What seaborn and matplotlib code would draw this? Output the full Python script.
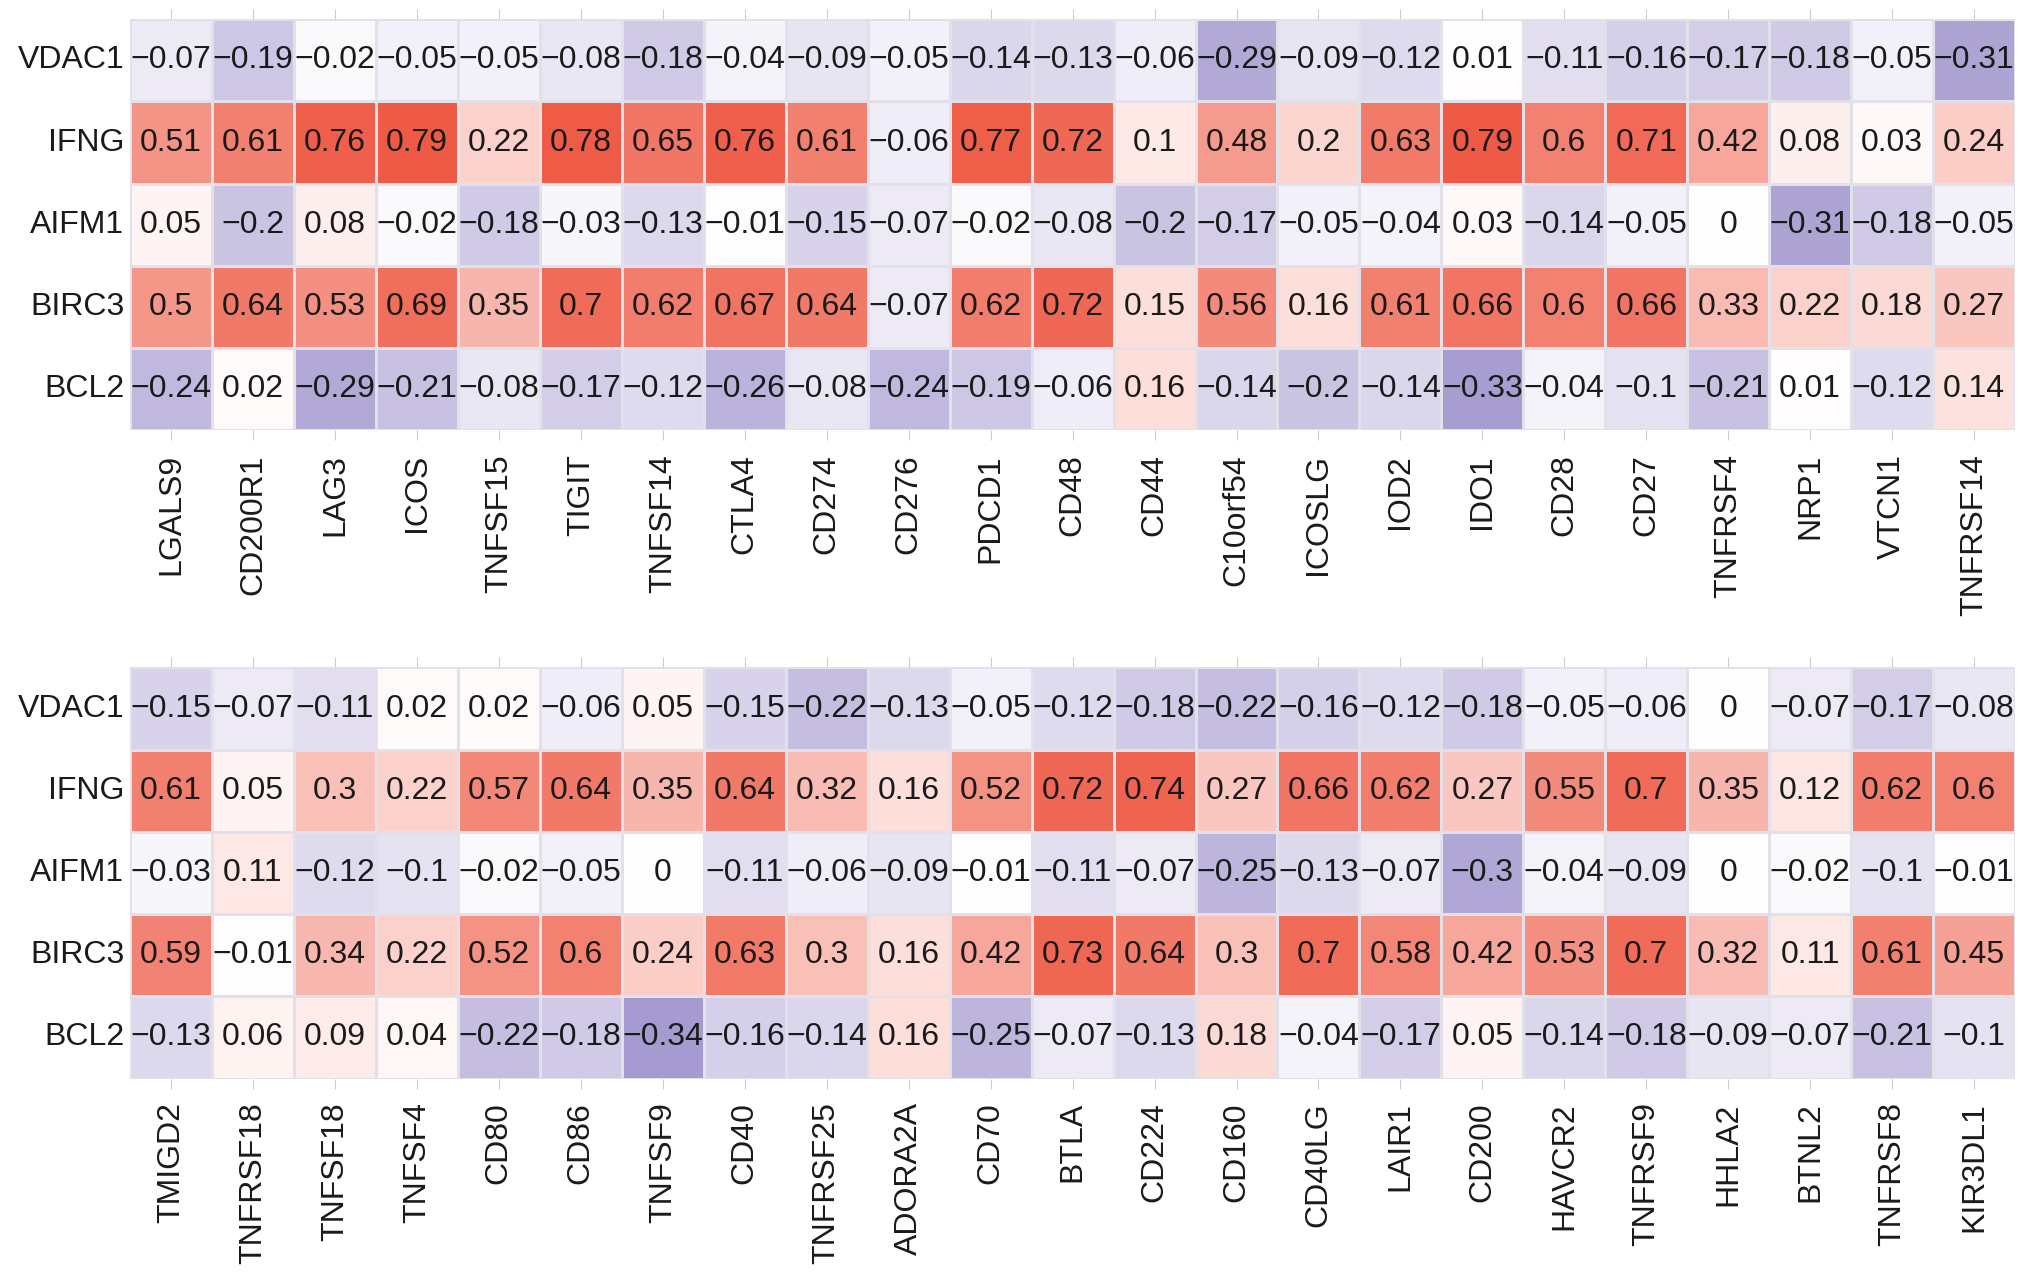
import numpy as np
import pandas as pd
import matplotlib
matplotlib.use("Agg")
import matplotlib.pyplot as plt
import seaborn as sns
from matplotlib.colors import LinearSegmentedColormap, TwoSlopeNorm

rows = ["VDAC1", "IFNG", "AIFM1", "BIRC3", "BCL2"]

genes_top = ["LGALS9", "CD200R1", "LAG3", "ICOS", "TNFSF15", "TIGIT", "TNFSF14", "CTLA4",
             "CD274", "CD276", "PDCD1", "CD48", "CD44", "C10orf54", "ICOSLG", "IOD2", "IDO1",
             "CD28", "CD27", "TNFRSF4", "NRP1", "VTCN1", "TNFRSF14"]
vdac1_top = [-0.07, -0.19, -0.02, -0.05, -0.05, -0.08, -0.18, -0.04, -0.09, -0.05, -0.14, -0.13,
             -0.06, -0.29, -0.09, -0.12, 0.01, -0.11, -0.16, -0.17, -0.18, -0.05, -0.31]
ifng_top = [0.51, 0.61, 0.76, 0.79, 0.22, 0.78, 0.65, 0.76, 0.61, -0.06, 0.77, 0.72,
            0.1, 0.48, 0.2, 0.63, 0.79, 0.6, 0.71, 0.42, 0.08, 0.03, 0.24]
aifm1_top = [0.05, -0.2, 0.08, -0.02, -0.18, -0.03, -0.13, -0.01, -0.15, -0.07, -0.02, -0.08,
             -0.2, -0.17, -0.05, -0.04, 0.03, -0.14, -0.05, 0, -0.31, -0.18, -0.05]
birc3_top = [0.5, 0.64, 0.53, 0.69, 0.35, 0.7, 0.62, 0.67, 0.64, -0.07, 0.62, 0.72,
             0.15, 0.56, 0.16, 0.61, 0.66, 0.6, 0.66, 0.33, 0.22, 0.18, 0.27]
bcl2_top = [-0.24, 0.02, -0.29, -0.21, -0.08, -0.17, -0.12, -0.26, -0.08, -0.24, -0.19, -0.06,
            0.16, -0.14, -0.2, -0.14, -0.33, -0.04, -0.1, -0.21, 0.01, -0.12, 0.14]

genes_bot = ["TMIGD2", "TNFRSF18", "TNFSF18", "TNFSF4", "CD80", "CD86", "TNFSF9", "CD40",
             "TNFRSF25", "ADORA2A", "CD70", "BTLA", "CD224", "CD160", "CD40LG", "LAIR1",
             "CD200", "HAVCR2", "TNFRSF9", "HHLA2", "BTNL2", "TNFRSF8", "KIR3DL1"]
vdac1_bot = [-0.15, -0.07, -0.11, 0.02, 0.02, -0.06, 0.05, -0.15, -0.22, -0.13, -0.05, -0.12,
             -0.18, -0.22, -0.16, -0.12, -0.18, -0.05, -0.06, 0, -0.07, -0.17, -0.08]
ifng_bot = [0.61, 0.05, 0.3, 0.22, 0.57, 0.64, 0.35, 0.64, 0.32, 0.16, 0.52, 0.72,
            0.74, 0.27, 0.66, 0.62, 0.27, 0.55, 0.7, 0.35, 0.12, 0.62, 0.6]
aifm1_bot = [-0.03, 0.11, -0.12, -0.1, -0.02, -0.05, 0, -0.11, -0.06, -0.09, -0.01, -0.11,
             -0.07, -0.25, -0.13, -0.07, -0.3, -0.04, -0.09, 0, -0.02, -0.1, -0.01]
birc3_bot = [0.59, -0.01, 0.34, 0.22, 0.52, 0.6, 0.24, 0.63, 0.3, 0.16, 0.42, 0.73,
             0.64, 0.3, 0.7, 0.58, 0.42, 0.53, 0.7, 0.32, 0.11, 0.61, 0.45]
bcl2_bot = [-0.13, 0.06, 0.09, 0.04, -0.22, -0.18, -0.34, -0.16, -0.14, 0.16, -0.25, -0.07,
            -0.13, 0.18, -0.04, -0.17, 0.05, -0.14, -0.18, -0.09, -0.07, -0.21, -0.1]

df_top = pd.DataFrame([vdac1_top, ifng_top, aifm1_top, birc3_top, bcl2_top], index=rows, columns=genes_top)
df_bot = pd.DataFrame([vdac1_bot, ifng_bot, aifm1_bot, birc3_bot, bcl2_bot], index=rows, columns=genes_bot)

# purple -> white -> red, centred on zero
cmap = LinearSegmentedColormap.from_list("pw", ["#a69bd0", "#ffffff", "#ee5a45"])
norm = TwoSlopeNorm(vmin=-0.34, vcenter=0, vmax=0.79)

plt.rcParams['font.family'] = ['Liberation Sans', 'DejaVu Sans']


def label(v):
    s = f"{v:g}"
    if s == "-0":
        s = "0"
    return s.replace("-", "\u2212")


fig = plt.figure(figsize=(20.32, 12.81), dpi=100)
ax1 = fig.add_axes([0.064, 0.664, 0.9277, 0.321])
ax2 = fig.add_axes([0.064, 0.158, 0.9277, 0.321])

for ax, df in [(ax1, df_top), (ax2, df_bot)]:
    annot = df.map(label).values
    sns.heatmap(df, ax=ax, cmap=cmap, norm=norm, annot=annot, fmt="", cbar=False,
                linewidths=1, linecolor="#e2e0e8",
                annot_kws={"fontsize": 23, "color": "#1a1a1a"})
    ax.set_xlabel("")
    ax.set_ylabel("")
    ax.tick_params(axis="x", top=True, bottom=True, labeltop=False, length=7,
                   color="#cccccc", labelsize=23, labelrotation=90, pad=10)
    ax.tick_params(axis="y", length=0, labelsize=23, labelrotation=0, pad=4)
    for lbl in ax.get_xticklabels():
        lbl.set_color("#1a1a1a")
    for lbl in ax.get_yticklabels():
        lbl.set_color("#1a1a1a")

fig.savefig("out.png", dpi=100)
